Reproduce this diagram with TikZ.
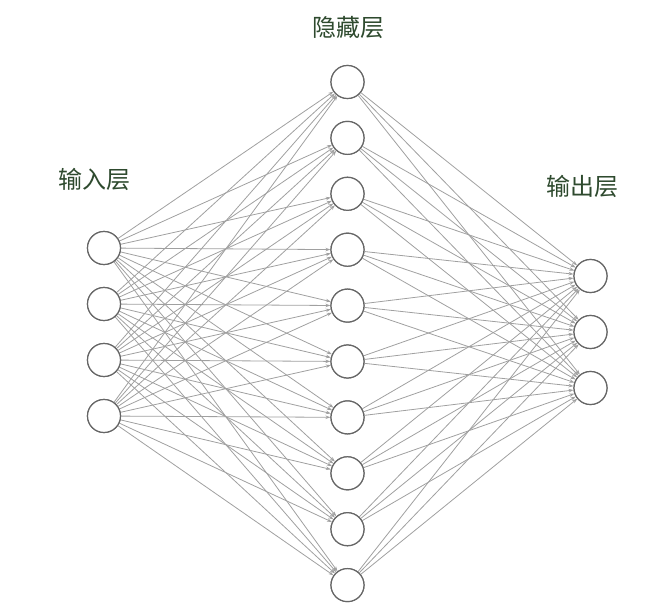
\documentclass[tikz,border=0pt]{standalone}
\usepackage{fontspec}
\newfontfamily\cjk{Noto Sans CJK SC}
\usetikzlibrary{arrows.meta}
\definecolor{labelgreen}{HTML}{2E4A2E}
\definecolor{edgegray}{HTML}{A0A0A0}
\definecolor{ringgray}{HTML}{666666}
\begin{document}
\begin{tikzpicture}[x=1pt,y=-1pt,
  neuron/.style={circle,draw=ringgray,line width=1.2pt,fill=white,minimum size=33pt,inner sep=0pt},
  conn/.style={draw=edgegray,line width=0.8pt,-{Stealth[length=5pt,width=3.5pt]}},
  layerlabel/.style={font=\cjk\fontsize{24}{28}\selectfont,text=labelgreen,inner sep=0pt}]
\useasboundingbox (0,0) rectangle (670,612);
\foreach \i [evaluate=\i as \yy using 248+56*(\i-1)] in {1,...,4}
  \node[neuron] (in\i) at (104,\yy) {};
\foreach \i [evaluate=\i as \yy using 82+55.9*(\i-1)] in {1,...,10}
  \node[neuron] (h\i) at (347.5,\yy) {};
\foreach \i [evaluate=\i as \yy using 276+56*(\i-1)] in {1,...,3}
  \node[neuron] (out\i) at (590.5,\yy) {};
\foreach \a in {1,...,4}
  \foreach \b in {1,...,10}
    \draw[conn] (in\a) -- (h\b);
\foreach \a in {1,...,10}
  \foreach \b in {1,...,3}
    \draw[conn] (h\a) -- (out\b);
\foreach \i in {1,...,4} \node[neuron] at (in\i) {};
\foreach \i in {1,...,10} \node[neuron] at (h\i) {};
\foreach \i in {1,...,3} \node[neuron] at (out\i) {};
\node[layerlabel] (lh) at (348,27) {隐藏层};
\node[layerlabel] (li) at (94,179) {输入层};
\node[layerlabel] (lo) at (582,186) {输出层};
\end{tikzpicture}
\end{document}
